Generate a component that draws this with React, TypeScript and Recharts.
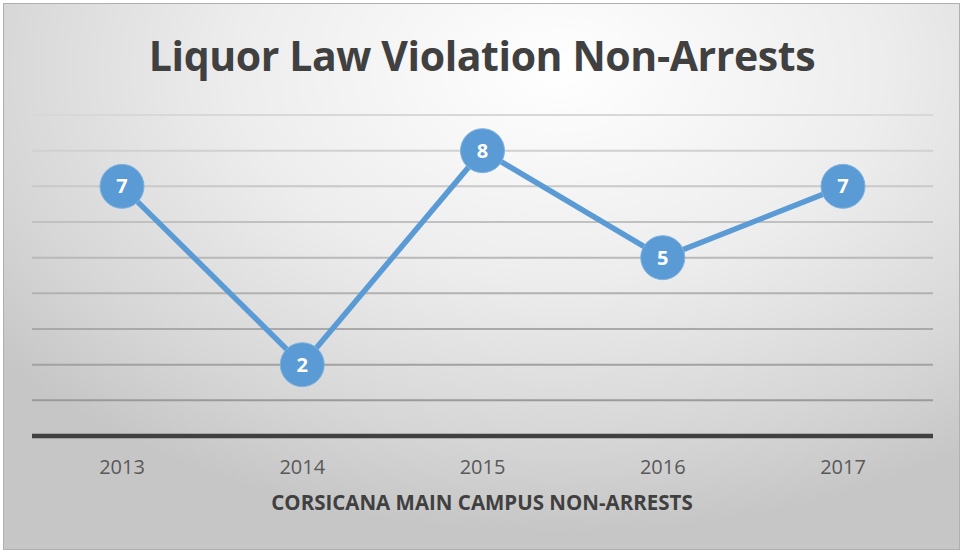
import { LineChart, Line, XAxis, YAxis, CartesianGrid, LabelList } from "recharts";

const years = ["2013", "2014", "2015", "2016", "2017"];
const nonArrests = [7, 2, 8, 5, 7];
const yTicks = [0, 1, 2, 3, 4, 5, 6, 7, 8, 9];

const data = years.map((year, i) => ({ year, value: nonArrests[i] }));

const Marker = (props: any) => {
    const { cx, cy } = props;
    if (cx == null || cy == null) return null;
    return <circle cx={cx} cy={cy} r={22} fill="#5b9bd5" stroke="#7fb2e0" strokeWidth={1} />;
};

const App = () => {
    return (
        <div style={{ position: "absolute", left: 0, top: 0, width: 964, height: 553, background: "#fff", fontFamily: "'Open Sans', sans-serif" }}>
            <div
                style={{
                    position: "absolute",
                    left: 3,
                    top: 3,
                    width: 955,
                    height: 545,
                    border: "1px solid #b0b0b0",
                    background: "radial-gradient(ellipse 75% 85% at 58% 12%, #ffffff 0%, #ededed 45%, #d6d6d6 80%, #c6c6c6 100%)",
                }}
            />
            <div
                style={{
                    position: "absolute",
                    left: 0,
                    top: 27,
                    width: 964,
                    textAlign: "center",
                    fontSize: 41,
                    fontWeight: 700,
                    color: "#404040",
                    letterSpacing: -0.4,
                }}
            >
                Liquor Law Violation Non-Arrests
            </div>
            <div
                style={{
                    position: "absolute",
                    left: 0,
                    top: 488,
                    width: 964,
                    textAlign: "center",
                    fontSize: 20.5,
                    fontWeight: 700,
                    color: "#404040",
                }}
            >
                CORSICANA MAIN CAMPUS NON-ARRESTS
            </div>
            <div style={{ position: "absolute", left: 0, top: 0 }}>
                <LineChart width={964} height={553} data={data} margin={{ top: 115, right: 31, left: 32, bottom: 0 }}>
                    <defs>
                        <linearGradient id="gridFade" gradientUnits="userSpaceOnUse" x1="0" y1="115" x2="0" y2="400">
                            <stop offset="0%" stopColor="#d8d8d8" />
                            <stop offset="100%" stopColor="#9a9a9a" />
                        </linearGradient>
                    </defs>
                    <CartesianGrid vertical={false} stroke="url(#gridFade)" strokeWidth={2} />
                    <XAxis
                        dataKey="year"
                        height={117}
                        padding={{ left: 90, right: 90 }}
                        tickLine={false}
                        axisLine={{ stroke: "#404040", strokeWidth: 4.5 }}
                        tickMargin={18}
                        tick={{ fill: "#595959", fontSize: 20, fontFamily: "'Open Sans', sans-serif" }}
                    />
                    <YAxis hide domain={[0, 9]} ticks={yTicks} />
                    <Line
                        dataKey="value"
                        stroke="#5b9bd5"
                        strokeWidth={5.5}
                        dot={<Marker />}
                        activeDot={false}
                        isAnimationActive={false}
                    >
                        <LabelList
                            dataKey="value"
                            position="center"
                            fill="#ffffff"
                            fontSize={20}
                            fontWeight={700}
                            fontFamily="'Open Sans', sans-serif"
                        />
                    </Line>
                </LineChart>
            </div>
        </div>
    );
};

export default App;
